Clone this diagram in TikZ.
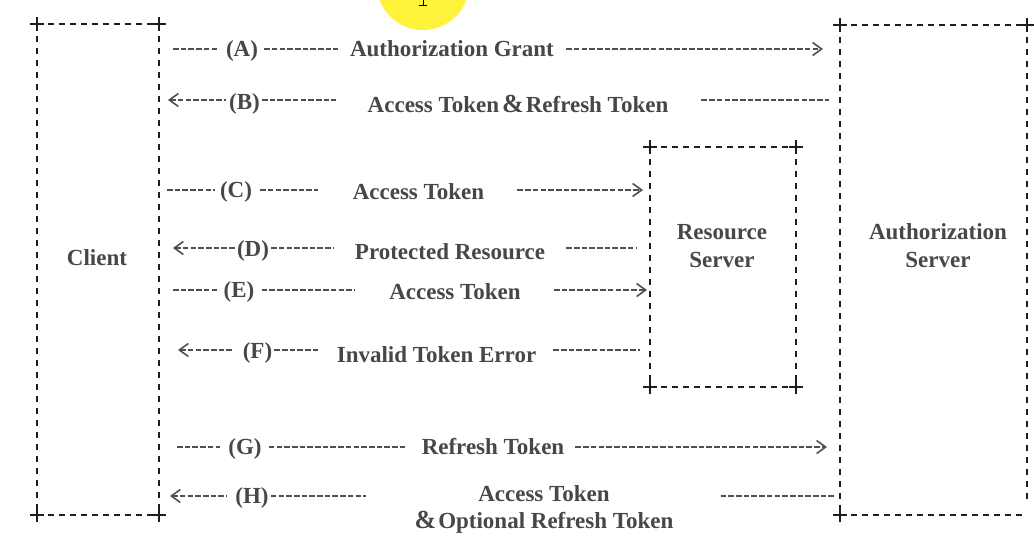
\documentclass[tikz,border=0pt]{standalone}
\usepackage{fontspec}
\setmainfont{Liberation Serif}
\usetikzlibrary{arrows.meta,calc}
\definecolor{txt}{HTML}{474747}
\definecolor{dsh}{HTML}{505050}
\definecolor{boxc}{HTML}{1E1E1E}
\definecolor{hl}{HTML}{FFF23A}
\newcommand{\bigamp}{{\fontsize{26}{26}\selectfont\&}}
\begin{document}
\begin{tikzpicture}[x=1pt,y=-1pt,
  lbl/.style={inner sep=0pt, text=txt, font=\bfseries\fontsize{23}{28}\selectfont, text height=15pt, text depth=0pt},
  lbltwo/.style={inner sep=0pt, text=txt, font=\bfseries\fontsize{23}{28}\selectfont, align=center},
  flow/.style={draw=dsh, line width=2.2pt, dash pattern=on 5.6pt off 2.1pt},
  tipR/.style={-{Straight Barb[length=9pt,width=13pt,line width=1.6pt]}},
  tipL/.style={{Straight Barb[length=9pt,width=13pt,line width=1.6pt]}-},
  hedge/.style={draw=boxc, line width=1.7pt, dash pattern=on 6pt off 5pt},
  vedge/.style={draw=boxc, line width=1.7pt, dash pattern=on 6pt off 6pt},
  plusmark/.style={draw=boxc, line width=2.4pt},
  box/.style={inner sep=0pt, draw=none},
  crs/.pic={\draw[plusmark] (-7,0) -- (7,0) (0,-7) -- (0,7);}
]
\useasboundingbox (0,0) rectangle (1034,536);
\clip (0,0) rectangle (1034,536);
\fill[white] (0,0) rectangle (1034,536);

% cursor highlight
\fill[hl] (423,-16.5) circle (46.5);
\draw[black, line width=1pt] (423,-3) -- (423,5) (419,5.5) -- (427,5.5);

% boxes
\node[box, minimum width=122pt, minimum height=491pt] (client) at (98,269.5) {};
\node[box, minimum width=146pt, minimum height=240pt] (rs) at (723,267) {};
\node[box, minimum width=187pt, minimum height=490pt] (as) at (933.5,270) {};

\draw[hedge] (client.north west) -- (client.north east);
\draw[hedge] (client.south west) -- (client.south east);
\draw[vedge] (client.north west) -- (client.south west);
\draw[vedge] (client.north east) -- (client.south east);
\pic at (client.north west) {crs};
\pic at (client.north east) {crs};
\pic at (client.south west) {crs};
\pic at (client.south east) {crs};

\draw[hedge] (rs.north west) -- (rs.north east);
\draw[hedge] (rs.south west) -- (rs.south east);
\draw[vedge] (rs.north west) -- (rs.south west);
\draw[vedge] (rs.north east) -- (rs.south east);
\pic at (rs.north west) {crs};
\pic at (rs.north east) {crs};
\pic at (rs.south west) {crs};
\pic at (rs.south east) {crs};

\draw[hedge] (as.north west) -- (as.north east);
\draw[hedge] (as.south west) -- ($(as.south east)+(-4,0)$);
\draw[vedge] (as.north west) -- (as.south west);
\draw[vedge] (as.north east) -- ($(as.south east)+(0,-16)$);
\pic at (as.north west) {crs};
\pic at (as.north east) {crs};
\pic at (as.south west) {crs};

\node[lbl] (clientlbl) at (97,258) {Client};
\node[lbltwo] (rslbl) at (722,246) {Resource\\Server};
\node[lbltwo] (aslbl) at (938,246) {Authorization\\Server};

% Row A
\coordinate (a0) at (173,49);
\coordinate (a1) at (823,49);
\node[lbl] (pA) at (242,49) {(A)};
\node[lbl] (tA) at (452,49) {Authorization Grant};
\draw[flow] (a0) -- ($(pA.west)+(-8,0)$);
\draw[flow] ($(pA.east)+(6,0)$) -- ($(tA.west)+(-12,0)$);
\draw[flow,tipR] ($(tA.east)+(12,0)$) -- (a1);

% Row B
\coordinate (b0) at (168,100);
\coordinate (b1) at (829,100);
\node[lbl] (pB) at (244.5,102) {(B)};
\node[lbl] (tB) at (518,105) {Access Token\kern3pt\bigamp\kern2pt Refresh Token};
\draw[flow,tipL] (b0) -- ($(pB.west |- b0)+(-3,0)$);
\draw[flow] ($(pB.east |- b0)+(2,0)$) -- ($(tB.west |- b0)+(-32,0)$);
\draw[flow] ($(tB.east |- b0)+(33,0)$) -- (b1);

% Row C
\coordinate (c0) at (167,190);
\coordinate (c1) at (643,190);
\node[lbl] (pC) at (236,190) {(C)};
\node[lbl] (tC) at (418.5,192) {Access Token};
\draw[flow] (c0) -- ($(pC.west |- c0)+(-5,0)$);
\draw[flow] ($(pC.east |- c0)+(8,0)$) -- ($(tC.west |- c0)+(-35,0)$);
\draw[flow,tipR] ($(tC.east |- c0)+(33,0)$) -- (c1);

% Row D
\coordinate (d0) at (173,248);
\coordinate (d1) at (637,248);
\node[lbl] (pD) at (253,249) {(D)};
\node[lbl] (tD) at (450,252) {Protected Resource};
\draw[flow,tipL] (d0) -- ($(pD.west |- d0)+(-1,0)$);
\draw[flow] ($(pD.east |- d0)+(2,0)$) -- ($(tD.west |- d0)+(-21,0)$);
\draw[flow] ($(tD.east |- d0)+(21,0)$) -- (d1);

% Row E
\coordinate (e0) at (173,290);
\coordinate (e1) at (647,290);
\node[lbl] (pE) at (239,290) {(E)};
\node[lbl] (tE) at (455,292) {Access Token};
\draw[flow] (e0) -- ($(pE.west |- e0)+(-6,0)$);
\draw[flow] ($(pE.east |- e0)+(7,0)$) -- ($(tE.west |- e0)+(-35,0)$);
\draw[flow,tipR] ($(tE.east |- e0)+(33,0)$) -- (e1);

% Row F
\coordinate (f0) at (178,350);
\coordinate (f1) at (640,350);
\node[lbl] (pF) at (257.5,351) {(F)};
\node[lbl] (tF) at (436.5,355) {Invalid Token Error};
\draw[flow,tipL] (f0) -- ($(pF.west |- f0)+(-9,0)$);
\draw[flow] ($(pF.east |- f0)+(2,0)$) -- ($(tF.west |- f0)+(-18,0)$);
\draw[flow] ($(tF.east |- f0)+(17,0)$) -- (f1);

% Row G
\coordinate (g0) at (177,447);
\coordinate (g1) at (827,447);
\node[lbl] (pG) at (245,447) {(G)};
\node[lbl] (tG) at (493,447) {Refresh Token};
\draw[flow] (g0) -- ($(pG.west |- g0)+(-8,0)$);
\draw[flow] ($(pG.east |- g0)+(7,0)$) -- ($(tG.west |- g0)+(-17,0)$);
\draw[flow,tipR] ($(tG.east |- g0)+(11,0)$) -- (g1);

% Row H
\coordinate (h0) at (170,496);
\coordinate (h1) at (834,496);
\node[lbl] (pH) at (252,496) {(H)};
\node[lbltwo, font=\bfseries\fontsize{23}{27}\selectfont, anchor=north] (tH) at (544,485) {Access Token\\\bigamp\kern2pt Optional Refresh Token};
\draw[flow,tipL] (h0) -- ($(pH.west |- h0)+(-9,0)$);
\draw[flow] ($(pH.east |- h0)+(2,0)$) -- ($(tH.west |- h0)+(-48,0)$);
\draw[flow] ($(tH.east |- h0)+(47,0)$) -- (h1);
\end{tikzpicture}
\end{document}
